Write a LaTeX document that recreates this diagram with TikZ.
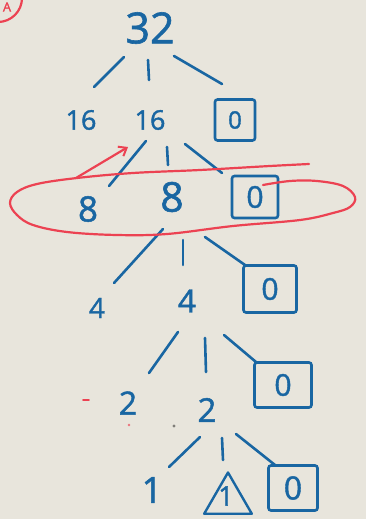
\documentclass[tikz,border=0pt]{standalone}
\usepackage{fontspec}
\setmainfont{Open Sans}
\newfontfamily\hand[FakeBold=1.4]{Open Sans}
\usetikzlibrary{calc,arrows.meta,shapes.geometric}
\definecolor{paper}{RGB}{232,229,220}
\definecolor{ink}{RGB}{25,102,162}
\definecolor{marker}{RGB}{236,66,82}
\tikzset{
  num/.style={text=ink, inner sep=0pt, font=\hand},
  zerobox/.style={draw=ink, line width=2.6pt, rounded corners=2.5pt, text=ink, inner sep=0pt, font=\hand},
  link/.style={draw=ink, line width=2.6pt, line cap=round},
  redpen/.style={draw=marker, line width=2.2pt, line cap=round, line join=round},
}
\newcommand{\fs}[1]{\fontsize{#1}{#1}\selectfont}
\begin{document}
\begin{tikzpicture}[x=1pt,y=-1pt]
\useasboundingbox (0,0) rectangle (366,519);
\fill[paper] (0,0) rectangle (366,519);

% circled label in the corner
\begin{scope}
\clip (0,0) rectangle (366,519);
\draw[redpen] (-2,-2) circle (24);
\node[text=marker, inner sep=0pt, font=\hand] (tag) at (7,7) {\fs{13}A};
\end{scope}

% root
\node[num] (n32) at (150,28) {\fs{43}32};

% level 1
\node[num] (a16) at (81,120) {\fs{27}16};
\node[num] (b16) at (150,120) {\fs{27}16};
\node[zerobox, minimum width=40pt, minimum height=41pt] (z1) at (235,120) {\fs{24}0};

% level 2
\node[num] (a8) at (88,209) {\fs{35}8};
\node[num] (b8) at (172,197) {\fs{41}8};
\node[zerobox, minimum width=46pt, minimum height=42pt] (z2) at (255,197) {\fs{30}0};

% level 3
\node[num] (a4) at (97,308) {\fs{28}4};
\node[num] (b4) at (187,301) {\fs{32}4};
\node[zerobox, minimum width=53pt, minimum height=47pt] (z3) at (270,289) {\fs{30}0};

% level 4
\node[num] (a2) at (128,403) {\fs{32}2};
\node[num] (b2) at (207,410) {\fs{33}2};
\node[zerobox, minimum width=57pt, minimum height=45pt] (z4) at (283,385) {\fs{30}0};

% level 5
\node[num] (a1) at (152,490) {\fs{36}1};
\node[draw=ink, line width=2.4pt, line join=round, regular polygon, regular polygon sides=3,
      minimum size=55pt, inner sep=0pt] (t1) at (228,500) {};
\node[num] (t1n) at (226,496) {\fs{27}1};
\node[zerobox, minimum width=49pt, minimum height=45pt] (z5) at (293,488) {\fs{32}0};

% branches
\draw[link] ($(n32)+(-26,29)$) -- ($(a16)+(13,-33)$);
\draw[link] ($(n32)+(-2,32)$) -- ($(b16)+(-1,-40)$);
\draw[link] ($(n32)+(24,28)$) -- ($(z1)+(-13,-36)$);

\draw[link] ($(b16)+(-4,21)$) -- ($(a8)+(21,-23)$);
\draw[link] ($(b16)+(17,27)$) -- ($(b8)+(-4,-32)$);
\draw[link] ($(b16)+(35,24)$) -- ($(z2)+(-33,-24)$);

\draw[link] ($(b8)+(-9,32)$) -- ($(a4)+(17,-25)$);
\draw[link] ($(b8)+(11,43)$) -- ($(b4)+(-4,-36)$);
\draw[link] ($(b8)+(33,40)$) -- ($(z3)+(-25,-24)$);

\draw[link] ($(b4)+(-9,31)$) -- ($(a2)+(21,-30)$);
\draw[link] ($(b4)+(18,37)$) -- ($(b2)+(-1,-38)$);
\draw[link] ($(b4)+(37,34)$) -- ($(z4)+(-27,-23)$);

\draw[link] ($(b2)+(-7,27)$) -- ($(a1)+(17,-23)$);
\draw[link] ($(b2)+(15,28)$) -- ($(t1)+(-5,-40)$);
\draw[link] ($(b2)+(29,24)$) -- ($(z5)+(-18,-23)$);

% red loop round the second row, and the arrow up to the middle 16
\draw[redpen] plot[smooth, tension=0.6] coordinates {
  (263,185) (290,181) (317,181) (343,186) (355,197) (350,207) (333,213) (300,220)
  (233,226) (167,234) (117,235) (67,232) (33,225) (17,215) (10,203) (17,192)
  (37,184) (77,178) (133,173) (200,170) (270,166) (309,164)};
\coordinate (tail) at (76,178);
\draw[redpen, -{Straight Barb[length=7pt,width=11pt,line width=2pt]}] (tail) -- ($(b16)+(-22,27)$);

% stray marks on the paper
\draw[draw=marker, line width=1.6pt, line cap=round] (83,400) -- (89,400);
\fill[marker!70!paper] (129,425) circle (1.3);
\fill[black!45!paper] (174,426) circle (1.6);
\end{tikzpicture}
\end{document}
